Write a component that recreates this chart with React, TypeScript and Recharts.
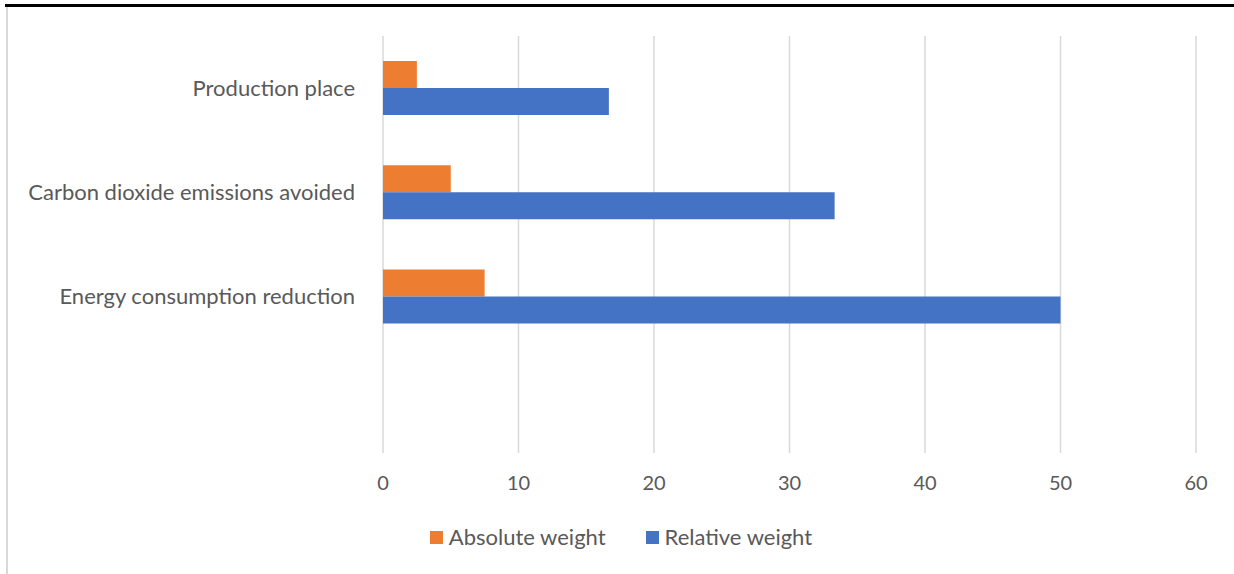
import { BarChart, Bar, XAxis, YAxis, CartesianGrid } from 'recharts'

const categories = ['Production place', 'Carbon dioxide emissions avoided', 'Energy consumption reduction', '']
const absoluteWeight = [2.5, 5, 7.5, null]
const relativeWeight = [16.67, 33.33, 50, null]
const xTicks = [0, 10, 20, 30, 40, 50, 60]

const seriesNames = { abs: 'Absolute weight', rel: 'Relative weight' }
const colors = { abs: '#ED7D31', rel: '#4472C4' }

const data = categories.map((name, i) => ({ name, abs: absoluteWeight[i], rel: relativeWeight[i] }))

const font = 'Lato, "Noto Sans", sans-serif'
const textColor = '#595959'

function LegendBox() {
  const items = [
    { key: 'abs', label: seriesNames.abs, color: colors.abs },
    { key: 'rel', label: seriesNames.rel, color: colors.rel },
  ]
  return (
    <div style={{ position: 'absolute', left: 4, top: 524, width: 1234, display: 'flex', justifyContent: 'center', gap: 40, fontFamily: font, fontSize: 22, color: textColor, lineHeight: '26px' }}>
      {items.map((p) => (
        <div key={p.key} style={{ display: 'flex', alignItems: 'center', gap: 6 }}>
          <span style={{ width: 13, height: 13, background: p.color, display: 'inline-block' }} />
          <span>{p.label}</span>
        </div>
      ))}
    </div>
  )
}

export default function App() {
  return (
    <div style={{ position: 'fixed', left: 0, top: 0, width: 1234, height: 574, background: '#fff', overflow: 'hidden' }}>
      <div style={{ position: 'absolute', left: 5, top: 4, width: 1229, height: 3, background: '#000' }} />
      <div style={{ position: 'absolute', left: 6, top: 7, width: 2, height: 567, background: '#d9d9d9' }} />
      <BarChart
        width={1234}
        height={574}
        data={data}
        layout="vertical"
        margin={{ top: 36, right: 38, bottom: 0, left: 0 }}
        barSize={27}
        barGap={0}
        style={{ position: 'absolute', left: 0, top: 0 }}
      >
        <CartesianGrid horizontal={false} stroke="#d9d9d9" strokeWidth={1.5} />
        <XAxis
          type="number"
          domain={[0, 60]}
          ticks={xTicks}
          axisLine={false}
          tickLine={false}
          tickSize={0}
          tickMargin={23}
          tick={{ fill: textColor, fontSize: 20, fontFamily: font }}
          height={121}
        />
        <YAxis
          type="category"
          dataKey="name"
          width={383}
          axisLine={false}
          tickLine={false}
          tickSize={0}
          tickMargin={28}
          tick={{ fill: textColor, fontSize: 22, fontFamily: font }}
        />
        <Bar dataKey="abs" name={seriesNames.abs} fill={colors.abs} isAnimationActive={false} />
        <Bar dataKey="rel" name={seriesNames.rel} fill={colors.rel} isAnimationActive={false} />
      </BarChart>
      <LegendBox />
    </div>
  )
}
